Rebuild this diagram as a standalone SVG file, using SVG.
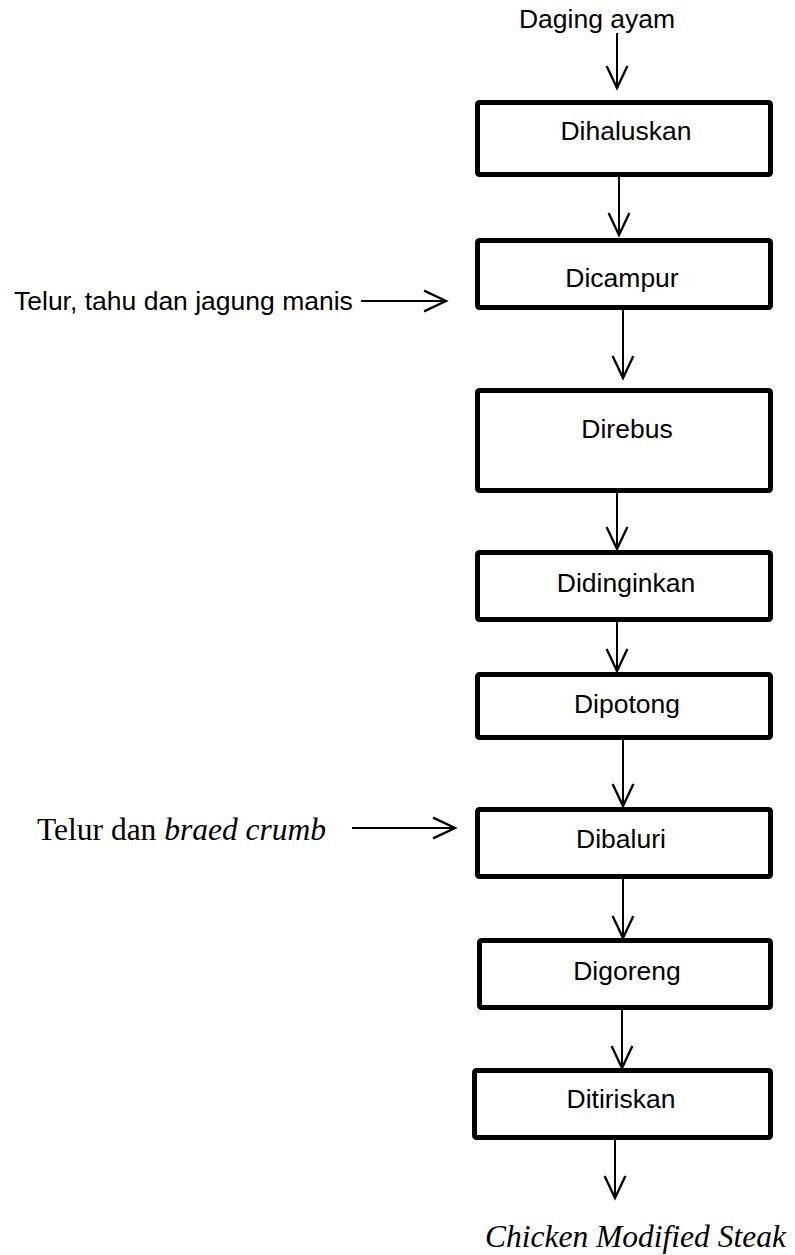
<svg xmlns="http://www.w3.org/2000/svg" width="795" height="1255" viewBox="0 0 795 1255">
<style>
.box{fill:#fff;stroke:#000;stroke-width:5;stroke-linejoin:round}
.lbl{font-family:"Liberation Sans",Arial,sans-serif;font-size:26.5px;fill:#000;text-anchor:middle}
.side{font-family:"Liberation Sans",Arial,sans-serif;font-size:26.5px;fill:#000}
.tnr{font-family:"Liberation Serif","Times New Roman",serif;font-size:31.5px;fill:#000}
.conn{stroke:#000;stroke-width:2;fill:none}
</style>
<defs>
<marker id="ah" markerUnits="userSpaceOnUse" markerWidth="30" markerHeight="30" viewBox="-22 -12 26 24" refX="0" refY="0" orient="auto">
<path d="M -19 -9 L 0 0 L -19 9" fill="none" stroke="#000" stroke-width="2"/>
</marker>
</defs>
<rect width="795" height="1255" fill="#fff"/>
<g id="connectors">
<path class="conn" d="M617 33 V88" marker-end="url(#ah)"/>
<path class="conn" d="M619 177 V235" marker-end="url(#ah)"/>
<path class="conn" d="M623 310 V378" marker-end="url(#ah)"/>
<path class="conn" d="M617 493 V549" marker-end="url(#ah)"/>
<path class="conn" d="M617 622 V671" marker-end="url(#ah)"/>
<path class="conn" d="M623 740 V806" marker-end="url(#ah)"/>
<path class="conn" d="M623 879 V938" marker-end="url(#ah)"/>
<path class="conn" d="M622 1010 V1068" marker-end="url(#ah)"/>
<path class="conn" d="M615 1140 V1198" marker-end="url(#ah)"/>
<path class="conn" d="M361 301 H446" marker-end="url(#ah)"/>
<path class="conn" d="M352 828 H455" marker-end="url(#ah)"/>
</g>
<g id="input-daging"><text class="lbl" x="597" y="28">Daging ayam</text></g>
<g id="input-telur1"><text class="side" x="14" y="310">Telur, tahu dan jagung manis</text></g>
<g id="input-telur2"><text class="tnr" x="37" y="840">Telur dan <tspan font-style="italic">braed crumb</tspan></text></g>
<g id="output"><text class="tnr" x="485" y="1247" font-style="italic">Chicken Modified Steak</text></g>
<g id="n1"><rect class="box" x="477.5" y="102.5" width="293" height="72" rx="2"/><text class="lbl" x="626" y="140">Dihaluskan</text></g>
<g id="n2"><rect class="box" x="477.5" y="240.5" width="293" height="67" rx="2"/><text class="lbl" x="622" y="287">Dicampur</text></g>
<g id="n3"><rect class="box" x="477.5" y="390.5" width="293" height="100" rx="2"/><text class="lbl" x="627" y="438">Direbus</text></g>
<g id="n4"><rect class="box" x="477.5" y="552.5" width="293" height="67" rx="2"/><text class="lbl" x="626" y="592">Didinginkan</text></g>
<g id="n5"><rect class="box" x="477.5" y="674.5" width="293" height="63" rx="2"/><text class="lbl" x="627" y="713">Dipotong</text></g>
<g id="n6"><rect class="box" x="477.5" y="809.5" width="293" height="67" rx="2"/><text class="lbl" x="621" y="848">Dibaluri</text></g>
<g id="n7"><rect class="box" x="479.5" y="940.5" width="291" height="67" rx="2"/><text class="lbl" x="627" y="980">Digoreng</text></g>
<g id="n8"><rect class="box" x="474.5" y="1070.5" width="296" height="67" rx="2"/><text class="lbl" x="621" y="1108">Ditiriskan</text></g>
</svg>
